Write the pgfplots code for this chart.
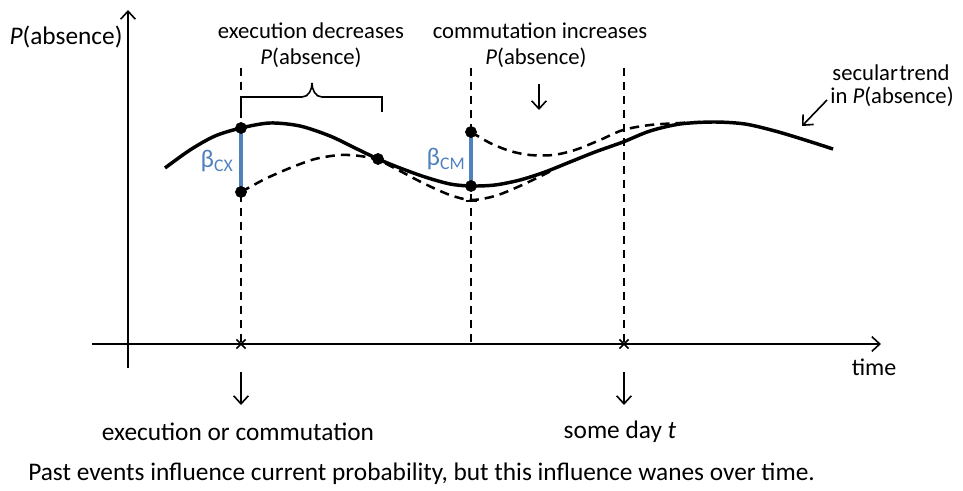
\documentclass[border=0pt]{standalone}
\usepackage{pgfplots}
\pgfplotsset{compat=1.18}
\usepackage{fontspec}
\setmainfont{Carlito}
\usetikzlibrary{arrows.meta}
\definecolor{betablue}{HTML}{4F81BD}
\begin{document}
\begin{tikzpicture}[font=\fontsize{17}{20}\selectfont,
  barb/.style={-{Straight Barb[length=6pt,width=11pt,line width=1.2pt]}}]
\begin{axis}[width=722.25pt,height=368.25pt,scale only axis,
  xmin=0,xmax=963,ymin=0,ymax=491,y dir=reverse,hide axis,clip=false]
\path (axis cs:0,0) rectangle (axis cs:963,491);
% axes
\addplot[line width=1.5pt,barb] coordinates {(128,368) (128,10)};
\addplot[line width=1.5pt,barb] coordinates {(92,344) (881,344)};
% vertical dashed guides
\addplot[line width=1pt,dash pattern=on 6pt off 4.5pt] coordinates {(241,68) (241,344)};
\addplot[line width=1pt,dash pattern=on 6pt off 4.5pt] coordinates {(471,68) (471,344)};
\addplot[line width=1pt,dash pattern=on 6pt off 4.5pt] coordinates {(624,68) (624,344)};
% crosses on time axis
\addplot[only marks,mark=x,mark size=4.8pt,mark options={line width=1.3pt}] coordinates {(241,344) (624,344)};
% secular trend
\addplot[line width=2.6pt,smooth] coordinates {
(165,168) (190,150) (215,136) (241,128) (270,123) (300,126) (330,136) (355,148)
(378,159) (400,168) (425,177) (450,184) (471,186) (495,185) (520,180) (545,172)
(570,162) (595,152) (623,142) (650,131) (680,124) (714,122) (745,124) (775,131)
(805,140) (833,149)};
% execution path
\addplot[line width=1.9pt,smooth,dash pattern=on 7pt off 4.5pt] coordinates {
(241,192) (265,179) (290,168) (315,159) (340,155) (360,156) (378,160) (400,171)
(425,184) (450,195) (471,200) (495,196) (520,186) (545,174) (555,169)};
% commutation path
\addplot[line width=1.9pt,smooth,dash pattern=on 7pt off 4.5pt] coordinates {
(471,132) (490,143) (510,151) (530,155) (553,155) (575,150) (600,140) (623,130)
(650,125) (680,123) (700,122)};
% tick at dashed minimum
\addplot[line width=1.2pt] coordinates {(466,201) (477,201)};
% effect bars
\addplot[line width=3.2pt,color=betablue] coordinates {(241,128) (241,192)};
\addplot[line width=3.2pt,color=betablue] coordinates {(471,132) (471,186)};
% dots
\addplot[only marks,mark=*,mark size=4.2pt] coordinates {(241,128) (241,192) (378,159) (471,132) (471,186)};
% brace
\addplot[line width=1.2pt] coordinates {(241,112) (241,97) (302,97)};
\addplot[line width=1.2pt] coordinates {(322,97) (382,97) (382,112)};
\draw[line width=1.2pt] (axis cs:302,97) to[out=0,in=-90] (axis cs:312,83);
\draw[line width=1.2pt] (axis cs:322,97) to[out=180,in=-90] (axis cs:312,83);
% arrows
\addplot[line width=1.2pt,barb] coordinates {(539,84) (539,110)};
\addplot[line width=1.2pt,barb] coordinates {(241,372) (241,405)};
\addplot[line width=1.2pt,barb] coordinates {(624,372) (624,405)};
\addplot[line width=1.2pt,barb] coordinates {(827,100) (802,126)};
% text
\node[font=\fontsize{19}{22}\selectfont] at (axis cs:66,37) {\textit{P}(absence)};
\node at (axis cs:311,31) {execution decreases};
\node at (axis cs:311,58) {\textit{P}(absence)};
\node at (axis cs:540,31) {commutation increases};
\node at (axis cs:536,58) {\textit{P}(absence)};
\node at (axis cs:891,73) {secular\kern1pt trend};
\node at (axis cs:892,97) {in \textit{P}(absence)};
\node[text=betablue,font=\fontsize{19}{22}\selectfont] at (axis cs:217,161) {β\textsubscript{CX}};
\node[text=betablue,font=\fontsize{19}{22}\selectfont] at (axis cs:446,159) {β\textsubscript{CM}};
\node[font=\fontsize{18}{21}\selectfont] at (axis cs:874,367) {time};
\node[font=\fontsize{19}{22}\selectfont] at (axis cs:238,432) {execution or commutation};
\node[font=\fontsize{19}{22}\selectfont] at (axis cs:620,432) {some day \textit{t}};
\node[anchor=west,inner sep=0pt,font=\fontsize{19}{22}\selectfont] at (axis cs:28,474) {Past events influence current probability, but this influence wanes over time.};
\end{axis}
\end{tikzpicture}
\end{document}
